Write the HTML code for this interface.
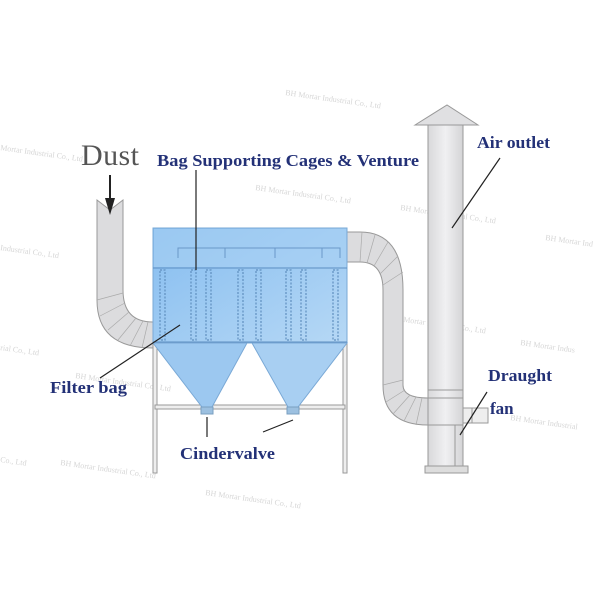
<!DOCTYPE html>
<html><head><style>body{margin:0;background:#fff}svg{display:block}</style></head><body>
<svg width="600" height="600" viewBox="0 0 600 600" xmlns="http://www.w3.org/2000/svg">
<defs>
<linearGradient id="box" x1="0" y1="0" x2="1" y2="1"><stop offset="0" stop-color="#86bdf0"/><stop offset="1" stop-color="#b6d8f5"/></linearGradient>
<linearGradient id="stk" x1="0" y1="0" x2="1" y2="0"><stop offset="0" stop-color="#d8d8da"/><stop offset=".5" stop-color="#f0f0f2"/><stop offset="1" stop-color="#d4d4d6"/></linearGradient>
</defs>
<g font-family="Liberation Serif, serif" font-size="8" fill="#ccc" opacity=".8">
<text x="285" y="95" transform="rotate(8 285 95)">BH Mortar Industrial Co., Ltd</text>
<text x="0" y="150" transform="rotate(8 0 150)">Mortar Industrial Co., Ltd</text>
<text x="255" y="190" transform="rotate(8 255 190)">BH Mortar Industrial Co., Ltd</text>
<text x="400" y="210" transform="rotate(8 400 210)">BH Mortar Industrial Co., Ltd</text>
<text x="0" y="250" transform="rotate(8 0 250)">Industrial Co., Ltd</text>
<text x="545" y="240" transform="rotate(8 545 240)">BH Mortar Ind</text>
<text x="390" y="320" transform="rotate(8 390 320)">BH Mortar Industrial Co., Ltd</text>
<text x="0" y="350" transform="rotate(8 0 350)">rial Co., Ltd</text>
<text x="75" y="378" transform="rotate(8 75 378)">BH Mortar Industrial Co., Ltd</text>
<text x="520" y="345" transform="rotate(8 520 345)">BH Mortar Indus</text>
<text x="510" y="420" transform="rotate(8 510 420)">BH Mortar Industrial</text>
<text x="0" y="462" transform="rotate(8 0 462)">Co., Ltd</text>
<text x="60" y="465" transform="rotate(8 60 465)">BH Mortar Industrial Co., Ltd</text>
<text x="205" y="495" transform="rotate(8 205 495)">BH Mortar Industrial Co., Ltd</text>
</g>
<path d="M97,200 L110,210 L123,200 L123,290 Q123,322 153,322 L153,348 Q97,348 97,300 Z" fill="#dcdcde" stroke="#999" stroke-width="1"/>
<g stroke="#aaa" stroke-width=".7"><line x1="97" y1="300" x2="123" y2="293"/><line x1="100" y1="316" x2="125" y2="303"/><line x1="108" y1="330" x2="129" y2="312"/><line x1="118" y1="340" x2="136" y2="318"/><line x1="130" y1="346" x2="143" y2="321"/><line x1="142" y1="348" x2="148" y2="322"/></g>
<path d="M347,232 L360,232 Q403,232 403,290 L403,385 Q403,398 428,398 L428,425 Q383,425 383,385 L383,290 Q383,262 360,262 L347,262 Z" fill="#dcdcde" stroke="#999" stroke-width="1"/>
<g stroke="#aaa" stroke-width=".7"><line x1="362" y1="232" x2="360" y2="262"/><line x1="375" y1="235" x2="367" y2="263"/><line x1="388" y1="242" x2="374" y2="266"/><line x1="398" y1="256" x2="380" y2="274"/><line x1="403" y1="272" x2="383" y2="285"/><line x1="383" y1="385" x2="403" y2="380"/><line x1="386" y1="402" x2="405" y2="390"/><line x1="393" y1="414" x2="410" y2="395"/><line x1="404" y1="421" x2="416" y2="397"/><line x1="416" y1="425" x2="422" y2="398"/></g>
<rect x="428" y="125" width="35" height="345" fill="url(#stk)" stroke="#999"/>
<path d="M415,125 L447,105 L478,125 Z" fill="#e0e0e2" stroke="#999"/>
<g stroke="#999" fill="none"><line x1="428" y1="390" x2="463" y2="390"/><line x1="428" y1="398" x2="463" y2="398"/><line x1="428" y1="425" x2="463" y2="425"/><line x1="455" y1="425" x2="455" y2="470"/><rect x="463" y="408" width="25" height="15" fill="#eee"/><line x1="472" y1="408" x2="472" y2="423"/><rect x="425" y="466" width="43" height="7" fill="#ddd"/></g>
<g fill="#eee" stroke="#999"><rect x="153" y="343" width="4" height="130"/><rect x="343" y="343" width="4" height="130"/><rect x="155" y="405" width="190" height="4"/></g>
<rect x="153" y="228" width="194" height="115" fill="url(#box)" stroke="#7aa9d6"/>
<rect x="154" y="229" width="192" height="38" fill="#a9d0f3" opacity=".6"/>
<line x1="153" y1="268" x2="347" y2="268" stroke="#5d8fc2"/>
<path d="M178,258 L178,248 L340,248 L340,258" fill="none" stroke="#6a98c8"/>
<g stroke="#6a98c8"><line x1="225" y1="248" x2="225" y2="258"/><line x1="275" y1="248" x2="275" y2="258"/><line x1="322" y1="248" x2="322" y2="258"/></g>
<g fill="none" stroke="#5f8fbf" stroke-width="1.2" stroke-dasharray="2 1.5">
<rect x="160" y="270" width="5" height="70"/><rect x="191" y="270" width="5" height="70"/><rect x="206" y="270" width="5" height="70"/><rect x="238" y="270" width="5" height="70"/><rect x="256" y="270" width="5" height="70"/><rect x="286" y="270" width="5" height="70"/><rect x="301" y="270" width="5" height="70"/><rect x="333" y="270" width="5" height="70"/></g>
<line x1="153" y1="342" x2="347" y2="342" stroke="#5d8fc2"/>
<path d="M153,343 L247,343 L212,407 L202,407 Z" fill="#9cc8f0" stroke="#7aa9d6"/>
<path d="M252,343 L347,343 L298,407 L288,407 Z" fill="#a8cff2" stroke="#7aa9d6"/>
<rect x="201" y="407" width="12" height="7" fill="#9cc0e0" stroke="#7a9fc0"/>
<rect x="287" y="407" width="12" height="7" fill="#9cc0e0" stroke="#7a9fc0"/>
<line x1="110" y1="175" x2="110" y2="200" stroke="#222" stroke-width="2"/>
<path d="M105,198 L115,198 L110,215 Z" fill="#222"/>
<g stroke="#222" stroke-width="1.2"><line x1="196" y1="170" x2="196" y2="270"/><line x1="100" y1="378" x2="180" y2="325"/><line x1="207" y1="417" x2="207" y2="437"/><line x1="263" y1="432" x2="293" y2="420"/><line x1="500" y1="158" x2="452" y2="228"/><line x1="487" y1="392" x2="460" y2="435"/></g>
<text x="81" y="165" font-family="Liberation Serif, serif" font-size="30" fill="#555" textLength="58">Dust</text>
<g font-family="Liberation Serif, serif" font-weight="bold" fill="#233177" font-size="17">
<text x="157" y="166" textLength="262" lengthAdjust="spacingAndGlyphs">Bag Supporting Cages &amp; Venture</text>
<text x="477" y="148" textLength="73" lengthAdjust="spacingAndGlyphs">Air outlet</text>
<text x="50" y="393" textLength="77" lengthAdjust="spacingAndGlyphs">Filter bag</text>
<text x="180" y="459" textLength="95" lengthAdjust="spacingAndGlyphs">Cindervalve</text>
<text x="488" y="381" textLength="64" lengthAdjust="spacingAndGlyphs">Draught</text>
<text x="490" y="414">fan</text>
</g>
</svg>
</body></html>
